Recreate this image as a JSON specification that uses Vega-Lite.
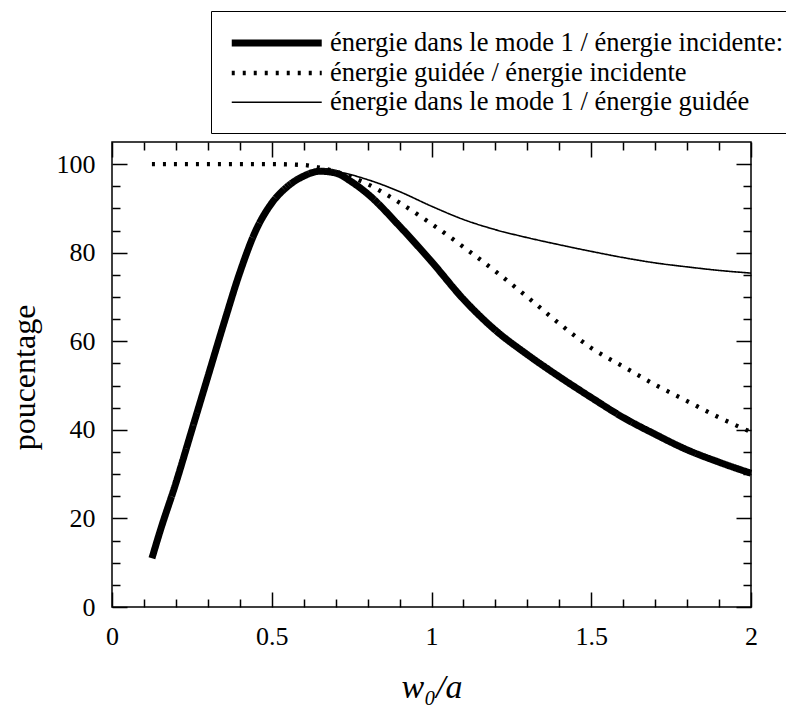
{
  "$schema": "https://vega.github.io/schema/vega-lite/v6.json",
  "width": 639,
  "height": 465,
  "autosize": {"type": "none"},
  "padding": {"left": 112, "top": 142, "right": 35, "bottom": 104},
  "background": "white",
  "config": {
    "view": {"stroke": "black", "strokeWidth": 1.5},
    "font": "Liberation Serif",
    "axis": {"grid": false, "domain": false, "tickColor": "black", "tickWidth": 1.5, "labelColor": "black", "titleColor": "black", "labelFont": "Liberation Serif", "titleFont": "Liberation Serif", "labelFontSize": 26, "labelFontWeight": "normal", "titleFontWeight": "normal"}
  },
  "data": {"values": [
    {"x": 0.125, "y": 11, "serie": "énergie dans le mode 1 / énergie incidente:"},
    {"x": 0.15, "y": 17, "serie": "énergie dans le mode 1 / énergie incidente:"},
    {"x": 0.2, "y": 28, "serie": "énergie dans le mode 1 / énergie incidente:"},
    {"x": 0.25, "y": 40, "serie": "énergie dans le mode 1 / énergie incidente:"},
    {"x": 0.3, "y": 52, "serie": "énergie dans le mode 1 / énergie incidente:"},
    {"x": 0.35, "y": 64, "serie": "énergie dans le mode 1 / énergie incidente:"},
    {"x": 0.4, "y": 75.5, "serie": "énergie dans le mode 1 / énergie incidente:"},
    {"x": 0.45, "y": 85, "serie": "énergie dans le mode 1 / énergie incidente:"},
    {"x": 0.5, "y": 91.2, "serie": "énergie dans le mode 1 / énergie incidente:"},
    {"x": 0.55, "y": 95, "serie": "énergie dans le mode 1 / énergie incidente:"},
    {"x": 0.6, "y": 97.3, "serie": "énergie dans le mode 1 / énergie incidente:"},
    {"x": 0.65, "y": 98.4, "serie": "énergie dans le mode 1 / énergie incidente:"},
    {"x": 0.7, "y": 98, "serie": "énergie dans le mode 1 / énergie incidente:"},
    {"x": 0.75, "y": 96, "serie": "énergie dans le mode 1 / énergie incidente:"},
    {"x": 0.8, "y": 93.3, "serie": "énergie dans le mode 1 / énergie incidente:"},
    {"x": 0.9, "y": 86, "serie": "énergie dans le mode 1 / énergie incidente:"},
    {"x": 1.0, "y": 78, "serie": "énergie dans le mode 1 / énergie incidente:"},
    {"x": 1.1, "y": 69.5, "serie": "énergie dans le mode 1 / énergie incidente:"},
    {"x": 1.2, "y": 62.5, "serie": "énergie dans le mode 1 / énergie incidente:"},
    {"x": 1.3, "y": 57, "serie": "énergie dans le mode 1 / énergie incidente:"},
    {"x": 1.4, "y": 52, "serie": "énergie dans le mode 1 / énergie incidente:"},
    {"x": 1.5, "y": 47.3, "serie": "énergie dans le mode 1 / énergie incidente:"},
    {"x": 1.6, "y": 42.8, "serie": "énergie dans le mode 1 / énergie incidente:"},
    {"x": 1.7, "y": 39, "serie": "énergie dans le mode 1 / énergie incidente:"},
    {"x": 1.8, "y": 35.5, "serie": "énergie dans le mode 1 / énergie incidente:"},
    {"x": 1.9, "y": 32.7, "serie": "énergie dans le mode 1 / énergie incidente:"},
    {"x": 2.0, "y": 30.2, "serie": "énergie dans le mode 1 / énergie incidente:"},
    {"x": 0.125, "y": 100, "serie": "énergie guidée / énergie incidente"},
    {"x": 0.3, "y": 100, "serie": "énergie guidée / énergie incidente"},
    {"x": 0.5, "y": 100, "serie": "énergie guidée / énergie incidente"},
    {"x": 0.6, "y": 99.8, "serie": "énergie guidée / énergie incidente"},
    {"x": 0.65, "y": 99.2, "serie": "énergie guidée / énergie incidente"},
    {"x": 0.7, "y": 98.3, "serie": "énergie guidée / énergie incidente"},
    {"x": 0.8, "y": 95.5, "serie": "énergie guidée / énergie incidente"},
    {"x": 0.9, "y": 91.3, "serie": "énergie guidée / énergie incidente"},
    {"x": 1.0, "y": 86.5, "serie": "énergie guidée / énergie incidente"},
    {"x": 1.1, "y": 81.3, "serie": "énergie guidée / énergie incidente"},
    {"x": 1.2, "y": 75.8, "serie": "énergie guidée / énergie incidente"},
    {"x": 1.3, "y": 70, "serie": "énergie guidée / énergie incidente"},
    {"x": 1.4, "y": 64, "serie": "énergie guidée / énergie incidente"},
    {"x": 1.5, "y": 58.5, "serie": "énergie guidée / énergie incidente"},
    {"x": 1.6, "y": 54.3, "serie": "énergie guidée / énergie incidente"},
    {"x": 1.7, "y": 50.2, "serie": "énergie guidée / énergie incidente"},
    {"x": 1.8, "y": 46.5, "serie": "énergie guidée / énergie incidente"},
    {"x": 1.9, "y": 42.8, "serie": "énergie guidée / énergie incidente"},
    {"x": 2.0, "y": 39.5, "serie": "énergie guidée / énergie incidente"},
    {"x": 0.65, "y": 98.5, "serie": "énergie dans le mode 1 / énergie guidée"},
    {"x": 0.7, "y": 98.3, "serie": "énergie dans le mode 1 / énergie guidée"},
    {"x": 0.8, "y": 96.5, "serie": "énergie dans le mode 1 / énergie guidée"},
    {"x": 0.9, "y": 93.8, "serie": "énergie dans le mode 1 / énergie guidée"},
    {"x": 1.0, "y": 90.5, "serie": "énergie dans le mode 1 / énergie guidée"},
    {"x": 1.1, "y": 87.5, "serie": "énergie dans le mode 1 / énergie guidée"},
    {"x": 1.2, "y": 85.2, "serie": "énergie dans le mode 1 / énergie guidée"},
    {"x": 1.3, "y": 83.4, "serie": "énergie dans le mode 1 / énergie guidée"},
    {"x": 1.4, "y": 81.8, "serie": "énergie dans le mode 1 / énergie guidée"},
    {"x": 1.5, "y": 80.3, "serie": "énergie dans le mode 1 / énergie guidée"},
    {"x": 1.6, "y": 78.9, "serie": "énergie dans le mode 1 / énergie guidée"},
    {"x": 1.7, "y": 77.7, "serie": "énergie dans le mode 1 / énergie guidée"},
    {"x": 1.8, "y": 76.8, "serie": "énergie dans le mode 1 / énergie guidée"},
    {"x": 1.9, "y": 76, "serie": "énergie dans le mode 1 / énergie guidée"},
    {"x": 2.0, "y": 75.4, "serie": "énergie dans le mode 1 / énergie guidée"}
  ]},
  "resolve": {"axis": {"x": "independent", "y": "independent"}},
  "layer": [
    {
      "mark": {"type": "line", "interpolate": "monotone", "color": "black", "strokeCap": "butt"},
      "encoding": {
        "x": {"field": "x", "type": "quantitative", "scale": {"domain": [0, 2], "nice": false},
          "axis": {"orient": "bottom", "values": [0,0.1,0.2,0.3,0.4,0.5,0.6,0.7,0.8,0.9,1,1.1,1.2,1.3,1.4,1.5,1.6,1.7,1.8,1.9,2],
            "tickSize": {"condition": {"test": "abs(datum.value*2 - round(datum.value*2)) < 0.001", "value": -15}, "value": -8},
            "labelExpr": "abs(datum.value*2 - round(datum.value*2)) < 0.001 ? format(datum.value, '~g') : ''",
            "labelPadding": 31, "labelFlush": false, "labelOverlap": false,
            "title": "w₀/a", "titleFontSize": 34, "titleFontStyle": "italic", "titleBaseline": "alphabetic", "titleY": 90}},
        "y": {"field": "y", "type": "quantitative", "scale": {"domain": [0, 105], "nice": false},
          "axis": {"orient": "left", "values": [0,5,10,15,20,25,30,35,40,45,50,55,60,65,70,75,80,85,90,95,100],
            "tickSize": {"condition": {"test": "datum.value % 20 === 0", "value": -15}, "value": -8},
            "labelExpr": "datum.value % 20 === 0 ? datum.label : ''",
            "labelPadding": 32, "labelFlush": false, "labelOverlap": false,
            "title": "poucentage", "titleFontSize": 32, "titleBaseline": "middle", "titleX": -88, "titleY": 235}},
        "strokeDash": {"field": "serie", "type": "nominal",
          "scale": {"domain": ["énergie dans le mode 1 / énergie incidente:", "énergie guidée / énergie incidente", "énergie dans le mode 1 / énergie guidée"], "range": [[1, 0], [3, 8], [1, 0]]},
          "legend": {"orient": "none", "legendX": 99, "legendY": -131, "title": null, "symbolType": "M-1,0H7", "symbolSize": 506, "symbolStrokeColor": "black", "symbolFillColor": "transparent", "labelFont": "Liberation Serif", "labelFontSize": 26.5, "labelColor": "black", "labelOffset": 72, "labelLimit": 900, "rowPadding": 2.5, "padding": 17, "strokeColor": "black", "fillColor": "white"}},
        "strokeWidth": {"field": "serie", "type": "nominal",
          "scale": {"domain": ["énergie dans le mode 1 / énergie incidente:", "énergie guidée / énergie incidente", "énergie dans le mode 1 / énergie guidée"], "range": [7, 1.6, 1.3]},
          "legend": {"orient": "none", "legendX": 99, "legendY": -131, "title": null, "symbolType": "M-1,0H7", "symbolSize": 506, "symbolStrokeColor": "black", "symbolFillColor": "transparent", "labelFont": "Liberation Serif", "labelFontSize": 26.5, "labelColor": "black", "labelOffset": 72, "labelLimit": 900, "rowPadding": 2.5, "padding": 17, "strokeColor": "black", "fillColor": "white"}}
      }
    },
    {
      "mark": {"type": "line", "opacity": 0},
      "encoding": {
        "x": {"field": "x", "type": "quantitative",
          "axis": {"orient": "top", "values": [0,0.1,0.2,0.3,0.4,0.5,0.6,0.7,0.8,0.9,1,1.1,1.2,1.3,1.4,1.5,1.6,1.7,1.8,1.9,2],
            "tickSize": {"condition": {"test": "abs(datum.value*2 - round(datum.value*2)) < 0.001", "value": -15}, "value": -8},
            "labels": false, "title": null}},
        "y": {"field": "y", "type": "quantitative",
          "axis": {"orient": "right", "values": [0,5,10,15,20,25,30,35,40,45,50,55,60,65,70,75,80,85,90,95,100],
            "tickSize": {"condition": {"test": "datum.value % 20 === 0", "value": -15}, "value": -8},
            "labels": false, "title": null}},
        "detail": {"field": "serie", "type": "nominal"}
      }
    }
  ]
}
